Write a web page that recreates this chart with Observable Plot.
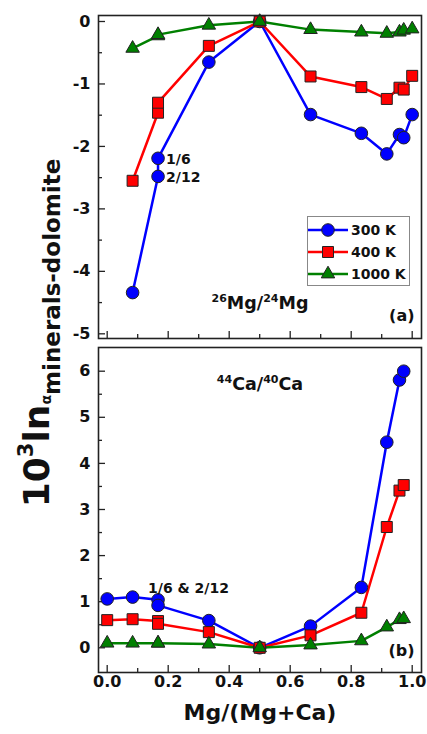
<!DOCTYPE html>
<html><head><meta charset="utf-8">
<script src="https://cdn.jsdelivr.net/npm/d3@7"></script>
<script src="https://cdn.jsdelivr.net/npm/@observablehq/plot@0.6"></script>
<style>
body{margin:0;background:#fff;}
#wrap{position:relative;width:427px;height:734px;overflow:hidden;font-family:"DejaVu Sans",sans-serif;font-weight:bold;color:#111;}
#wrap .panel{position:absolute;left:0;}
#ylab{position:absolute;left:40px;top:333px;transform:translate(-50%,-50%) rotate(-90deg);white-space:nowrap;font-size:36px;line-height:1;}
#legend{position:absolute;left:307px;top:216px;width:103px;height:70px;border:1px solid #888;background:#fff;box-sizing:border-box;}
</style></head>
<body><div id="wrap"></div>
<script>
// ---- data ----
const seriesNames = ["300 K", "400 K", "1000 K"];
const seriesColors = ["#0000ff", "#ff0000", "#008000"];
const seriesSymbols = ["circle", "square", "triangle"];
const seriesR = [6.3, 6.2, 5];

// panel (a) 26Mg/24Mg
const xMg = [0.0833, 0.1667, 0.1667, 0.3333, 0.5, 0.6667, 0.8333, 0.9167, 0.9583, 0.9722, 1.0];
const mg300 = [-4.34, -2.48, -2.19, -0.65, 0, -1.49, -1.79, -2.12, -1.81, -1.86, -1.49];
const mg400 = [-2.55, -1.46, -1.30, -0.39, 0, -0.88, -1.05, -1.24, -1.06, -1.09, -0.87];
const mg1000 = [-0.43, -0.23, -0.21, -0.06, 0, -0.13, -0.17, -0.19, -0.17, -0.14, -0.12];

// panel (b) 44Ca/40Ca
const xCa = [0, 0.0833, 0.1667, 0.1667, 0.3333, 0.5, 0.6667, 0.8333, 0.9167, 0.9583, 0.9722];
const ca300 = [1.06, 1.10, 1.04, 0.92, 0.59, 0.0, 0.47, 1.31, 4.46, 5.81, 6.0];
const ca400 = [0.60, 0.62, 0.58, 0.52, 0.34, 0.0, 0.27, 0.76, 2.62, 3.41, 3.53];
const ca1000 = [0.10, 0.10, 0.10, 0.10, 0.08, 0.0, 0.06, 0.15, 0.45, 0.61, 0.63];

const xTicks = [0, 0.2, 0.4, 0.6, 0.8, 1.0];
const xMinor = [0.1, 0.3, 0.5, 0.7, 0.9];
const yTicksA = [0, -1, -2, -3, -4, -5];
const yMinorA = [-0.5, -1.5, -2.5, -3.5, -4.5];
const yTicksB = [0, 1, 2, 3, 4, 5, 6];
const yMinorB = [0.5, 1.5, 2.5, 3.5, 4.5, 5.5];

const annA = [{x: xMg[2], y: mg300[2], t: "1/6"}, {x: xMg[1], y: mg300[1], t: "2/12"}];
const annB = [{x: xCa[2], y: ca300[2], t: "1/6 & 2/12"}];

// ---- layout ----
const W = 427;
const xDomain = [-0.0285, 1.0305];
const styleBase = {fontFamily: "DejaVu Sans", fontWeight: "bold", fontSize: "16px", color: "#111", background: "transparent", overflow: "visible"};

function rows(xs, ys) { return xs.map((x, i) => ({x, y: ys[i]})); }

function seriesMarks(xs, ysList) {
  const lines = ysList.map((ys, k) => Plot.line(rows(xs, ys), {x: "x", y: "y", stroke: seriesColors[k], strokeWidth: 2.5}));
  const dots = ysList.map((ys, k) => Plot.dot(rows(xs, ys), {x: "x", y: "y", symbol: seriesSymbols[k], r: seriesR[k], fill: seriesColors[k], stroke: "#222", strokeWidth: 1}));
  return [...lines, ...dots];
}

const hA = 345, mtA = 15, mbA = 7;
const fwA = W - 98 - 6, fhA = hA - mtA - mbA;
const panelA = Plot.plot({
  width: W, height: hA, marginLeft: 98, marginRight: 6, marginTop: mtA, marginBottom: mbA,
  style: styleBase,
  x: {domain: xDomain, axis: null},
  y: {domain: [-5.075, 0.096]},
  marks: [
    Plot.axisY(yTicksA, {tickSize: 0, tickPadding: 8, tickFormat: d => String(d), label: null}),
    Plot.ruleY(yTicksA, {insetRight: fwA - 7, stroke: "#222", strokeWidth: 1.3}),
    Plot.ruleY(yMinorA, {insetRight: fwA - 4, stroke: "#222", strokeWidth: 1.3}),
    Plot.ruleX(xTicks, {insetTop: fhA - 7, stroke: "#222", strokeWidth: 1.3}),
    Plot.ruleX(xMinor, {insetTop: fhA - 4, stroke: "#222", strokeWidth: 1.3}),
    ...seriesMarks(xMg, [mg300, mg400, mg1000]),
    Plot.text(annA, {x: "x", y: "y", text: "t", dx: 8, dy: 1, textAnchor: "start", fontSize: 14}),
    Plot.text(["26Mg/24Mg"], {frameAnchor: "bottom", dy: -30, fontSize: 17.5}),
    Plot.text(["(a)"], {frameAnchor: "bottom-right", textAnchor: "end", dx: -7, dy: -18, fontSize: 16}),
    Plot.frame({stroke: "#222", strokeWidth: 1.6})
  ]
});

const hB = 389, mtB = 2, mbB = 62;
const fwB = W - 98 - 6, fhB = hB - mtB - mbB;
const panelB = Plot.plot({
  width: W, height: hB, marginLeft: 98, marginRight: 6, marginTop: mtB, marginBottom: mbB,
  style: styleBase,
  x: {domain: xDomain},
  y: {domain: [-0.536, 6.514]},
  marks: [
    Plot.axisY(yTicksB, {tickSize: 0, tickPadding: 8, tickFormat: d => String(d), label: null}),
    Plot.axisX(xTicks, {tickSize: 0, tickPadding: 3, tickFormat: d => d.toFixed(1), label: null}),
    Plot.ruleY(yTicksB, {insetRight: fwB - 7, stroke: "#222", strokeWidth: 1.3}),
    Plot.ruleY(yMinorB, {insetRight: fwB - 4, stroke: "#222", strokeWidth: 1.3}),
    Plot.ruleX(xTicks, {insetTop: fhB - 7, stroke: "#222", strokeWidth: 1.3}),
    Plot.ruleX(xMinor, {insetTop: fhB - 4, stroke: "#222", strokeWidth: 1.3}),
    ...seriesMarks(xCa, [ca300, ca400, ca1000]),
    Plot.text(annB, {x: "x", y: "y", text: "t", dx: -10, dy: -11, textAnchor: "start", fontSize: 14}),
    Plot.text(["44Ca/40Ca"], {frameAnchor: "top", dy: 30, fontSize: 17.5}),
    Plot.text(["(b)"], {frameAnchor: "bottom-right", textAnchor: "end", dx: -7, dy: -17, fontSize: 16}),
    Plot.text(["Mg/(Mg+Ca)"], {frameAnchor: "bottom", dy: 47, fontSize: 22}),
    Plot.frame({stroke: "#222", strokeWidth: 1.6})
  ]
});

function richify(svg, plain, parts) {
  d3.select(svg).selectAll("text").filter(function() { return this.textContent === plain; }).each(function() {
    const t = d3.select(this);
    t.text(null);
    let up = false;
    parts.forEach(([s, sup]) => {
      const ts = t.append("tspan").text(s);
      if (sup) ts.attr("font-size", "11px");
      if (sup && !up) { ts.attr("dy", -7); up = true; }
      else if (!sup && up) { ts.attr("dy", 7); up = false; }
    });
  });
}
richify(panelA, "26Mg/24Mg", [["26", 1], ["Mg", 0], ["/", 0], ["24", 1], ["Mg", 0]]);
richify(panelB, "44Ca/40Ca", [["44", 1], ["Ca", 0], ["/", 0], ["40", 1], ["Ca", 0]]);

const wrap = document.getElementById("wrap");
panelA.classList.add("panel"); panelA.style.top = "0px";
panelB.classList.add("panel"); panelB.style.top = hA + "px";
wrap.appendChild(panelA);
wrap.appendChild(panelB);

// y-axis title
const ylab = document.createElement("div");
ylab.id = "ylab";
ylab.innerHTML = '10<span style="font-size:21px;vertical-align:16px">3</span>ln' +
  '<span style="font-size:14px;vertical-align:-2px">α</span>' +
  '<span style="font-size:23px;vertical-align:-11px">minerals-dolomite</span>';
wrap.appendChild(ylab);

// legend
const legend = document.createElement("div");
legend.id = "legend";
const ls = d3.create("svg").attr("width", 101).attr("height", 68).style("display", "block")
  .style("font-family", "DejaVu Sans").style("font-weight", "bold").style("font-size", "14px");
seriesNames.forEach((name, k) => {
  const cy = 13 + k * 22;
  const g = ls.append("g").attr("transform", `translate(0,${cy})`);
  g.append("line").attr("x1", 0).attr("x2", 40).attr("stroke", seriesColors[k]).attr("stroke-width", 2.5);
  const sym = {circle: d3.symbolCircle, square: d3.symbolSquare, triangle: d3.symbolTriangle}[seriesSymbols[k]];
  g.append("path").attr("transform", "translate(20,0)")
    .attr("d", d3.symbol(sym, Math.PI * seriesR[k] * seriesR[k])())
    .attr("fill", seriesColors[k]).attr("stroke", "#222").attr("stroke-width", 1);
  g.append("text").attr("x", 43).attr("dy", "0.36em").attr("fill", "#111").text(name);
});
legend.appendChild(ls.node());
wrap.appendChild(legend);
</script>
</body></html>
